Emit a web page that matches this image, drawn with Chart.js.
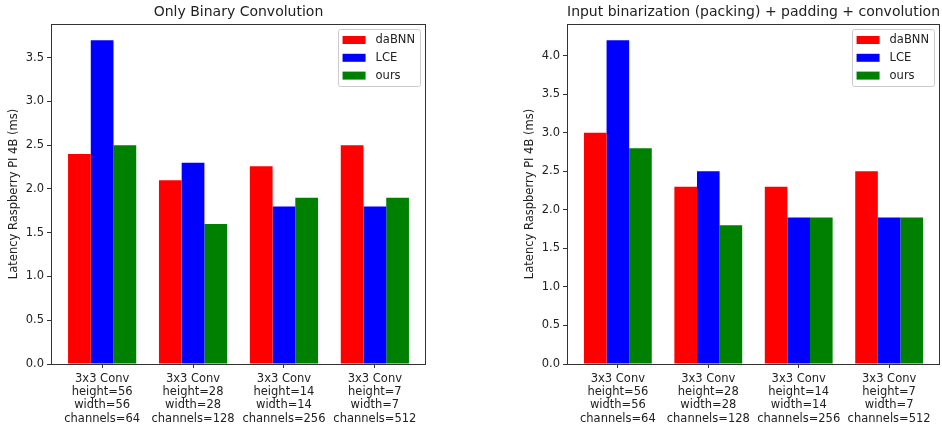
<!DOCTYPE html>
<html>
<head>
<meta charset="utf-8">
<script src="https://cdn.jsdelivr.net/npm/chart.js@4.4.1/dist/chart.umd.min.js"></script>
<style>
  html, body { margin: 0; padding: 0; background: #fff; }
  #wrap { position: relative; width: 942px; height: 424px; overflow: hidden; }
  .box { position: absolute; top: 0; width: 471px; height: 424px; }
  #left { left: 0; }
  #right { left: 471px; }
</style>
</head>
<body>
<div id="wrap">
  <div class="box" id="left"><canvas id="chartLeft"></canvas></div>
  <div class="box" id="right"><canvas id="chartRight"></canvas></div>
</div>
<script>
// --- data -------------------------------------------------------------------
const CATEGORIES = [
  ['3x3 Conv', 'height=56', 'width=56', 'channels=64'],
  ['3x3 Conv', 'height=28', 'width=28', 'channels=128'],
  ['3x3 Conv', 'height=14', 'width=14', 'channels=256'],
  ['3x3 Conv', 'height=7', 'width=7', 'channels=512'],
];
const SERIES = ['daBNN', 'LCE', 'ours'];
const SERIES_COLORS = ['#ff0000', '#0000ff', '#008000'];

// left: only binary convolution
const BIN_DABNN = [2.4, 2.1, 2.26, 2.5];
const BIN_LCE   = [3.7, 2.3, 1.8, 1.8];
const BIN_OURS  = [2.5, 1.6, 1.9, 1.9];

// right: packing + padding + convolution
const FULL_DABNN = [3.0, 2.3, 2.3, 2.5];
const FULL_LCE   = [4.2, 2.5, 1.9, 1.9];
const FULL_OURS  = [2.8, 1.8, 1.9, 1.9];

const Y_TICKS_LEFT  = [0, 0.5, 1.0, 1.5, 2.0, 2.5, 3.0, 3.5];
const Y_TICKS_RIGHT = [0, 0.5, 1.0, 1.5, 2.0, 2.5, 3.0, 3.5, 4.0];

const TITLE_LEFT  = 'Only Binary Convolution';
const TITLE_RIGHT = 'Input binarization (packing) + padding + convolution';
const Y_LABEL = 'Latency Raspberry PI 4B (ms)';

// --- styling ----------------------------------------------------------------
const FONT = 'DejaVu Sans';
const AXIS_COLOR = '#333333';
const TEXT_COLOR = '#222222';

// matplotlib-style full frame around the axes
const framePlugin = {
  id: 'frame',
  afterDatasetsDraw(chart) {
    const { ctx, chartArea: a } = chart;
    ctx.save();
    ctx.strokeStyle = AXIS_COLOR;
    ctx.lineWidth = 1;
    ctx.strokeRect(Math.round(a.left) + 0.5, Math.round(a.top) + 0.5,
      Math.round(a.right - a.left) - 1, Math.round(a.bottom - a.top));
    ctx.restore();
  },
};

// legend drawn inside the upper right corner, like plt.legend()
const innerLegend = {
  id: 'innerLegend',
  afterDraw(chart) {
    const { ctx, chartArea: a } = chart;
    const sets = chart.data.datasets;
    ctx.save();
    ctx.font = `11.5px "${FONT}"`;
    const textW = Math.max(...sets.map(d => ctx.measureText(d.label).width));
    const patchW = 23, patchH = 8, rowH = 17.8;
    const w = 5 + patchW + 10 + textW + 5;
    const h = rowH * sets.length + 4;
    const x0 = a.right - 6 - w;
    const y0 = a.top + 5;

    ctx.fillStyle = 'rgba(255,255,255,0.8)';
    ctx.strokeStyle = '#cccccc';
    ctx.lineWidth = 1;
    ctx.beginPath();
    ctx.roundRect(Math.round(x0) + 0.5, Math.round(y0) + 0.5, Math.round(w), Math.round(h), 2);
    ctx.fill();
    ctx.stroke();

    ctx.textBaseline = 'middle';
    ctx.textAlign = 'left';
    sets.forEach((d, i) => {
      const cy = y0 + 11 + i * rowH;
      ctx.fillStyle = d.backgroundColor;
      ctx.fillRect(x0 + 5, cy - patchH / 2, patchW, patchH);
      ctx.fillStyle = TEXT_COLOR;
      ctx.fillText(d.label, x0 + 5 + patchW + 10, cy + 0.5);
    });
    ctx.restore();
  },
};

function makeDatasets(seriesValues) {
  return SERIES.map((name, i) => ({
    label: name,
    data: seriesValues[i].map((v, k) => ({ x: k, y: v })),
    backgroundColor: SERIES_COLORS[i],
    borderWidth: 0,
    categoryPercentage: 0.75,
    barPercentage: 1.0,
  }));
}

function makeChart(canvasId, title, seriesValues, yTicks, padLeft, padRight) {
  const all = seriesValues.flat();
  const yMax = Math.max(...all) * 1.05;   // matplotlib default top margin
  const xMin = -0.5625, xMax = CATEGORIES.length - 1 + 0.5625;

  return new Chart(document.getElementById(canvasId), {
    type: 'bar',
    data: { datasets: makeDatasets(seriesValues) },
    options: {
      responsive: true,
      maintainAspectRatio: false,
      animation: false,
      layout: { padding: { left: padLeft, right: padRight, top: 0, bottom: 0 } },
      plugins: {
        legend: { display: false },
        tooltip: { enabled: false },
        title: {
          display: true,
          text: title,
          fullSize: false,
          color: TEXT_COLOR,
          font: { family: FONT, size: 14, weight: 'normal', lineHeight: 1.2 },
          padding: { top: 4.2, bottom: 3.0 },
        },
      },
      scales: {
        x: {
          type: 'linear',
          min: xMin,
          max: xMax,
          offset: false,
          afterBuildTicks: (axis) => { axis.ticks = CATEGORIES.map((_, i) => ({ value: i })); },
          afterFit: (axis) => { axis.height = 60; },
          grid: { offset: false, drawOnChartArea: false, drawTicks: true, tickLength: 4, color: AXIS_COLOR },
          border: { display: false },
          ticks: {
            color: TEXT_COLOR,
            autoSkip: false,
            maxRotation: 0,
            padding: 4,
            font: { family: FONT, size: 11.5, lineHeight: 1.16 },
            callback: (v) => CATEGORIES[v] || '',
          },
        },
        y: {
          min: 0,
          max: yMax,
          afterBuildTicks: (axis) => { axis.ticks = yTicks.map(v => ({ value: v })); },
          afterFit: (axis) => { axis.width = 51; },
          grid: { drawOnChartArea: false, drawTicks: true, tickLength: 4, color: AXIS_COLOR },
          border: { display: false },
          ticks: {
            color: TEXT_COLOR,
            padding: 3,
            font: { family: FONT, size: 11.5 },
            callback: (v) => Number(v).toFixed(1),
          },
          title: {
            display: true,
            text: Y_LABEL,
            color: TEXT_COLOR,
            padding: { top: 7, bottom: 0 },
            font: { family: FONT, size: 11.5, lineHeight: 1.2 },
          },
        },
      },
    },
    plugins: [framePlugin, innerLegend],
  });
}

makeChart('chartLeft', TITLE_LEFT, [BIN_DABNN, BIN_LCE, BIN_OURS], Y_TICKS_LEFT, 0, 45);
makeChart('chartRight', TITLE_RIGHT, [FULL_DABNN, FULL_LCE, FULL_OURS], Y_TICKS_RIGHT, 45, 2);
</script>
</body>
</html>
